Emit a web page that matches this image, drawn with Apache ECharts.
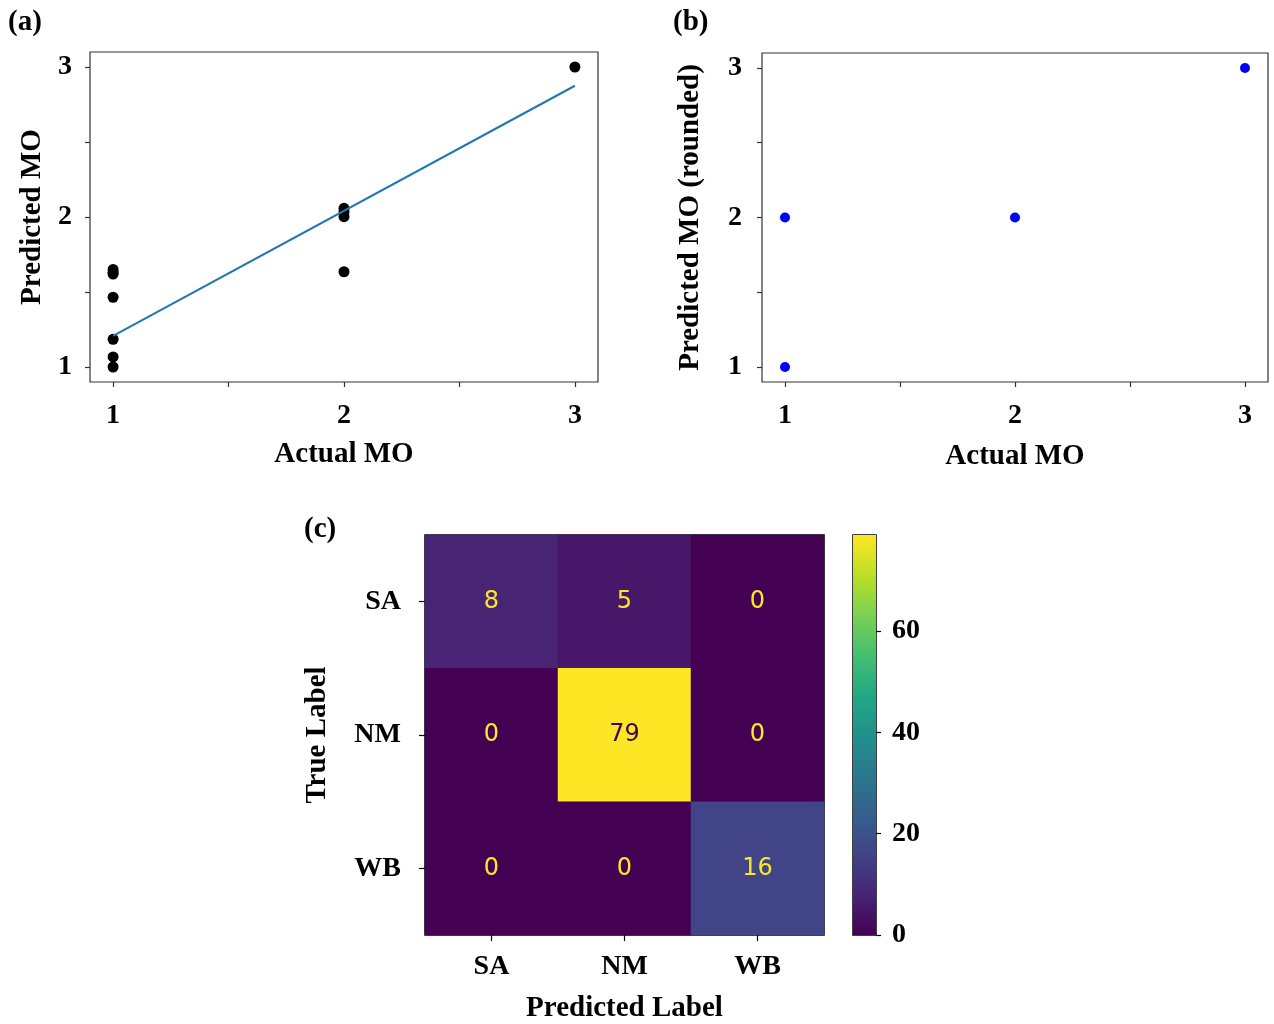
<!DOCTYPE html>
<html>
<head>
<meta charset="utf-8">
<script src="https://cdn.jsdelivr.net/npm/echarts@6/dist/echarts.min.js"></script>
<style>html,body{margin:0;padding:0;background:#fff}#c{width:1274px;height:1024px}</style>
</head>
<body>
<div id="c"></div>
<script>
// Panel (a): actual vs predicted MO
const aActual = [1, 1, 1, 1, 1, 1, 1, 2, 2, 2, 2, 3];
const aPred = [1.65, 1.63, 1.62, 1.465, 1.185, 1.067, 1.0, 2.058, 2.035, 2.002, 1.635, 3.0];
const fitX = [1, 3];
const fitY = [1.207, 2.875];
// Panel (b): rounded predictions
const bActual = [1, 1, 2, 3];
const bPred = [1, 2, 2, 3];
// Panel (c): confusion matrix
const classes = ['SA', 'NM', 'WB'];
const confusion = [
  [8, 5, 0],
  [0, 79, 0],
  [0, 0, 16]
];
const colorbarMax = [79];
const colorbarTicks = [0, 20, 40, 60];
const mainTicks = [1, 2, 3];
const minorTicks = [1, 1.5, 2, 2.5, 3];

const serif = 'Liberation Serif';
const viridis = ['#440154','#482475','#414487','#355f8d','#2a788e','#21918c','#22a884','#44bf70','#7ad151','#bddf26','#fde725'];
const tickLbl = {fontFamily: serif, fontWeight: 'bold', fontSize: 28, color: '#000'};
const nameSty = {fontFamily: serif, fontWeight: 'bold', fontSize: 29, color: '#000'};

function valAxis(grid, gap, margin, isY) {
  return {
    type: 'value', gridIndex: grid, min: 0.9, max: 3.1,
    name: isY ? (grid === 0 ? 'Predicted MO' : 'Predicted MO (rounded)') : 'Actual MO',
    nameLocation: 'middle', nameGap: gap, nameTextStyle: nameSty,
    axisLine: {show: false},
    splitLine: {show: false},
    axisTick: {show: true, length: 5, inside: false, customValues: minorTicks, lineStyle: {color: '#333', width: 1.2}},
    axisLabel: {show: true, margin: margin, customValues: mainTicks, ...tickLbl, formatter: v => String(Math.round(v))}
  };
}

const heatData = [];
confusion.forEach((row, i) => row.forEach((v, j) => {
  heatData.push({value: [j, i, v], label: {color: v > 79 / 2 ? '#440154' : '#fde725'}});
}));

const gridBase = {show: true, borderColor: '#333', borderWidth: 1.2, backgroundColor: 'transparent', outerBoundsMode: 'none', containLabel: false};

const option = {
  animation: false,
  backgroundColor: '#fff',
  title: [
    {text: '(a)', left: 3, top: 3, textStyle: {...nameSty}},
    {text: '(b)', left: 668, top: 3, textStyle: {...nameSty}},
    {text: '(c)', left: 299, top: 510, textStyle: {...nameSty}}
  ],
  grid: [
    {left: 90, top: 52, width: 508, height: 330, ...gridBase},
    {left: 762, top: 53, width: 506, height: 329, ...gridBase},
    {left: 425, top: 535, width: 399, height: 400, ...gridBase, borderColor: '#000', borderWidth: 1.5},
    {left: 853, top: 535, width: 23, height: 400, ...gridBase, borderColor: '#000', borderWidth: 1.5}
  ],
  xAxis: [
    valAxis(0, 58, 20, false),
    valAxis(1, 60, 20, false),
    {type: 'category', gridIndex: 2, data: classes, name: 'Predicted Label', nameLocation: 'middle', nameGap: 59, nameTextStyle: nameSty,
     axisLine: {show: false}, splitLine: {show: false},
     axisTick: {show: true, alignWithLabel: true, length: 6, lineStyle: {color: '#000', width: 1.2}},
     axisLabel: {margin: 18, ...tickLbl}},
    {type: 'category', gridIndex: 3, data: [''], show: false}
  ],
  yAxis: [
    valAxis(0, 43, 18, true),
    valAxis(1, 57, 20, true),
    {type: 'category', gridIndex: 2, data: classes, inverse: true, name: 'True Label', nameLocation: 'middle', nameGap: 93, nameTextStyle: nameSty,
     axisLine: {show: false}, splitLine: {show: false},
     axisTick: {show: true, alignWithLabel: true, length: 6, lineStyle: {color: '#000', width: 1.2}},
     axisLabel: {margin: 24, ...tickLbl}},
    {type: 'value', gridIndex: 3, min: 0, max: 79, position: 'right',
     axisLine: {show: false}, splitLine: {show: false},
     axisTick: {show: true, length: 5, customValues: colorbarTicks, lineStyle: {color: '#000', width: 1.2}},
     axisLabel: {margin: 16, customValues: colorbarTicks, ...tickLbl}}
  ],
  visualMap: [{
    type: 'continuous', show: false, min: 0, max: 79, seriesIndex: 3, dimension: 2,
    inRange: {color: viridis}
  }],
  series: [
    {type: 'scatter', xAxisIndex: 0, yAxisIndex: 0, symbolSize: 11, itemStyle: {color: '#000', opacity: 1},
     data: aActual.map((x, i) => [x, aPred[i]])},
    {type: 'line', xAxisIndex: 0, yAxisIndex: 0, symbol: 'none', lineStyle: {color: '#1f77b4', width: 2},
     data: fitX.map((x, i) => [x, fitY[i]])},
    {type: 'scatter', xAxisIndex: 1, yAxisIndex: 1, symbolSize: 10, itemStyle: {color: '#0000ff', opacity: 1},
     data: bActual.map((x, i) => [x, bPred[i]])},
    {type: 'heatmap', xAxisIndex: 2, yAxisIndex: 2, data: heatData,
     label: {show: true, fontFamily: 'DejaVu Sans', fontSize: 24, formatter: p => String(p.value[2])}},
    {type: 'bar', xAxisIndex: 3, yAxisIndex: 3, barWidth: '100%', data: colorbarMax,
     itemStyle: {color: new echarts.graphic.LinearGradient(0, 1, 0, 0,
       viridis.map((c, i) => ({offset: i / (viridis.length - 1), color: c})))}}
  ]
};
const chart = echarts.init(document.getElementById('c'), null, {renderer: 'canvas'});
chart.setOption(option);
</script>
</body>
</html>
